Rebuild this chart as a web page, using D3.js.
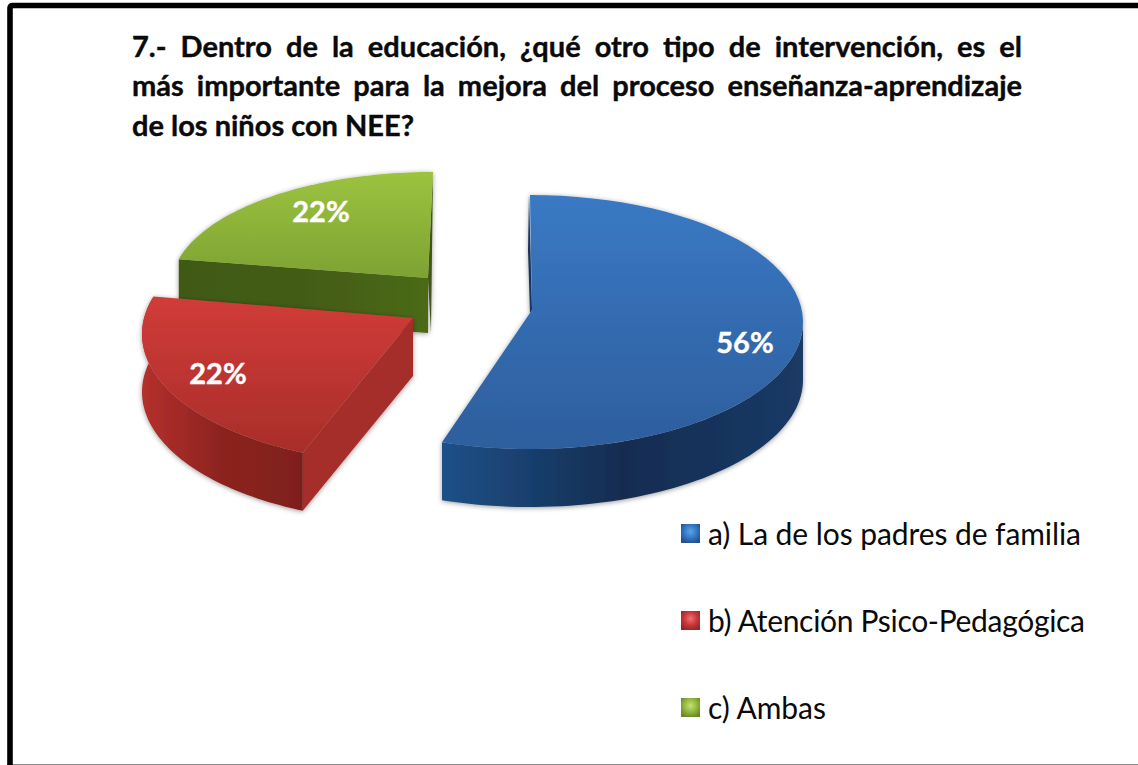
<!DOCTYPE html>
<html><head><meta charset="utf-8">
<script src="https://cdn.jsdelivr.net/npm/d3@7"></script>
<style>html,body{margin:0;padding:0;background:#fff;overflow:hidden}svg{display:block}</style>
</head><body><svg id="c" width="1138" height="765"></svg>
<script>
const titleLines = ["7.- Dentro de la educación, ¿qué otro tipo de intervención, es el",
  "más importante para la mejora del proceso enseñanza-aprendizaje",
  "de los niños con NEE?"];
const categories = ["a) La de los padres de familia","b) Atención Psico-Pedagógica","c) Ambas"];
const values = [56,22,22];
const palette = [
 {top:["#3a79c4","#2d5e9d"],wall:["#1f5088","#132c50","#1a3863"],side:"#16355f",base:"#3477c4",lo:"#24528c",hi:"#5aa4e6"},
 {top:["#d13c38","#a82d2a"],wall:["#b4302d","#86211d","#7a1e1a"],side:"#a62d29",base:"#c9383a",lo:"#96282a",hi:"#ee7472"},
 {top:["#9cc33f","#7ea233"],wall:["#405a16","#435c17","#4b6a19"],side:"#3f5715",base:"#93b83c",lo:"#6a892c",hi:"#c6e07a"}];
// drawn geometry of each exploded wedge
const geom = [
 {cx:530,cy:322,rx:273,ry:127,ax:532,ay:310,depth:58,d0:0,d1:-2.8,lx:745,ly:342},
 {cx:413,cy:334,rx:271,ry:130,ax:413,ay:318,depth:58,d0:2.4,d1:6,lx:218,ly:373},
 {cx:433,cy:287,rx:262,ry:115,ax:428,ay:278,depth:55,d0:3.2,d1:0,lx:321,ly:211}];
const legendWidths = [373,377,118];

const svg = d3.select("#c");
const defs = svg.append("defs");
const sh = defs.append("filter").attr("id","sh").attr("x","-10%").attr("y","-10%").attr("width","120%").attr("height","120%");
sh.append("feDropShadow").attr("dx",0).attr("dy",1).attr("stdDeviation",2.5).attr("flood-color","#000").attr("flood-opacity",.4);

palette.forEach((p,i)=>{
  const g=defs.append("linearGradient").attr("id","t"+i).attr("x1",0).attr("x2",0).attr("y1",0).attr("y2",1);
  p.top.forEach((c,k)=>g.append("stop").attr("offset",k).attr("stop-color",c));
  const w=defs.append("linearGradient").attr("id","w"+i).attr("x1",0).attr("x2",1).attr("y1",0).attr("y2",0);
  p.wall.forEach((c,k)=>w.append("stop").attr("offset",k/2).attr("stop-color",c));
  const m=defs.append("radialGradient").attr("id","m"+i).attr("cx",.5).attr("cy",.4).attr("r",.62);
  [[0,p.hi],[.55,p.base],[1,p.lo]].forEach(([o,c])=>m.append("stop").attr("offset",o).attr("stop-color",c));
});
[["w1rev",["#7e1f1b","#8c231f","#b4302d"]],["w0rev",["#1a3a66","#132c50","#1f5088"]]].forEach(([id,cs])=>{
  const w=defs.append("linearGradient").attr("id",id).attr("x1",1).attr("x2",0).attr("y1",0).attr("y2",0);
  cs.forEach((c,k)=>w.append("stop").attr("offset",k/2).attr("stop-color",c));
});

// frame
svg.append("rect").attr("x",7).attr("y",764).attr("width",1131).attr("height",1).attr("fill","#8c8c8c");
svg.append("path").attr("d","M10 765V8Q10 5.5 12.5 5.5H1138").attr("fill","none").attr("stroke","#000").attr("stroke-width",5.6);

const pie = d3.pie().sort(null).value(d=>d)(values);
const pt=(g,a,dy=0)=>[g.cx+g.rx*Math.sin(a), g.cy-g.ry*Math.cos(a)+dy];
const rad=d=>d*Math.PI/180;
const line=d3.line();
function arcPts(g,a0,a1,dy){
  const n=60; return d3.range(n+1).map(i=>pt(g,a0+(a1-a0)*i/n,dy));
}
// paint order: back (green), red, blue
[2,1,0].forEach(i=>{
  const g=geom[i], s=pie[i], a0=s.startAngle+rad(g.d0), a1=s.endAngle+rad(g.d1);
  const G=svg.append("g").attr("filter","url(#sh)");
  const A=[g.ax,g.ay], AB=[g.ax,g.ay+g.depth];
  if(i===2){
    const c=pt(g,a0);
    G.append("path").attr("d",line([A,c,[c[0],c[1]+g.depth],AB])+"Z").attr("fill",`url(#w${i})`);
    G.append("path").attr("d",line([A,pt(g,a1),[g.ax+3,g.ay+g.depth]])+"Z").attr("fill",palette[i].side);
  }
  if(i===1){
    const lo=arcPts(g,a0,a1,0), hi=arcPts(g,a0,a1,g.depth).reverse();
    const c=pt(g,a0);
    G.append("path").attr("d",line([A,AB,[c[0],c[1]+g.depth],c])+"Z").attr("fill",palette[i].side);
    G.append("path").attr("d",line(lo.concat(hi))+"Z").attr("fill","url(#w1rev)");
  }
  if(i===0){
    const mid=Math.PI*0.5;
    const lo=arcPts(g,mid,a1,0), hi=arcPts(g,mid,a1,g.depth).reverse();
    G.append("path").attr("d",line(lo.concat(hi))+"Z").attr("fill","url(#w0rev)");
    const tp=pt(g,0);
    G.append("path").attr("d",line([[tp[0]-1,tp[1]],A,[A[0]-2,A[1]+3],[tp[0]-2,tp[1]+55]])+"Z").attr("fill",palette[i].side);
  }
  const top=arcPts(g,a0,a1,0);
  G.append("path").attr("d",line([A].concat(top))+"Z").attr("fill",`url(#t${i})`);
});

// data labels
svg.append("g").selectAll("text").data(values).join("text")
  .attr("x",(d,i)=>geom[i].lx).attr("y",(d,i)=>geom[i].ly+11)
  .attr("text-anchor","middle").attr("font-family","Lato").attr("font-weight",700)
  .attr("font-size",29).attr("fill","#fff").attr("stroke","#fff").attr("stroke-width",.4).text(d=>d+"%");

// title: justified lines
const T=svg.append("g").attr("font-family","Lato").attr("font-weight",700).attr("font-size",29).attr("fill","#0a0a0a").attr("stroke","#0a0a0a").attr("stroke-width",.4);
const titleX=132,titleR=1022,baselines=[57,96,136];
titleLines.forEach((l,i)=>{
  const t=T.append("text").attr("x",titleX).attr("y",baselines[i]).text(l);
  if(i<2){
    const w=t.node().getComputedTextLength();
    const gaps=l.split(" ").length-1;
    t.attr("word-spacing",(titleR-titleX-w)/gaps);
  }
});

// legend
const ly=d3.scalePoint().domain(categories).range([534,708]);
const L=svg.append("g").selectAll("g").data(categories).join("g").attr("transform",d=>`translate(0,${ly(d)})`);
L.append("rect").attr("x",681).attr("y",-10).attr("width",19).attr("height",19).attr("fill",(d,i)=>`url(#m${i})`);
L.append("text").attr("x",708).attr("y",11).attr("font-family","Lato").attr("font-size",30).attr("fill","#0a0a0a")
  .attr("textLength",(d,i)=>legendWidths[i]).attr("lengthAdjust","spacing").text(d=>d);
</script></body></html>
